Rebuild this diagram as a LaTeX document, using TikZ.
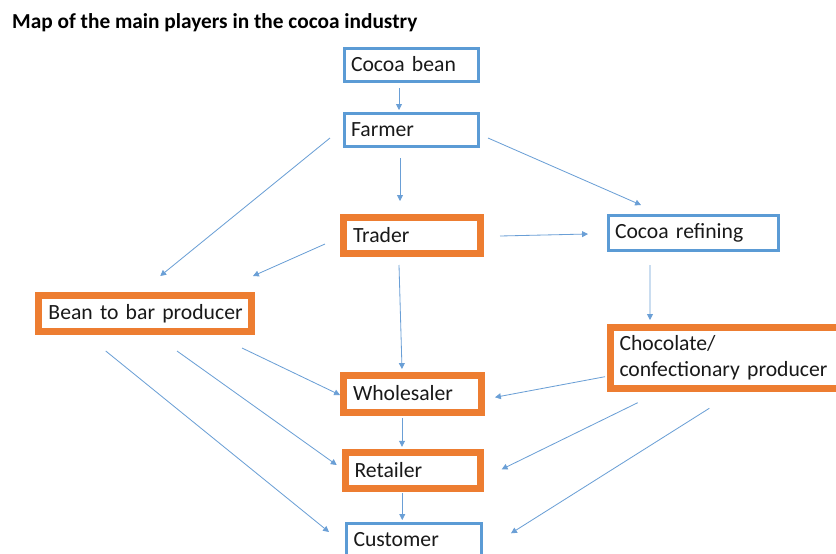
\documentclass[tikz,border=0pt]{standalone}
\usepackage{fontspec}
\setmainfont{Carlito}
\usetikzlibrary{arrows.meta,calc}

\definecolor{boxblue}{HTML}{5B9BD5}
\definecolor{boxorange}{HTML}{ED7D31}
\definecolor{flowblue}{HTML}{6A9FD6}

\tikzset{
  box/.style={outer sep=0pt, align=left, text=black!90,
    font=\fontsize{18.5}{22}\selectfont, fill=white},
  bluebox/.style={box, draw=boxblue, line width=0.09cm, inner xsep=0.21cm, text width=#1},
  orangebox/.style={box, draw=boxorange, line width=0.21cm, inner xsep=0.285cm, text width=#1},
  flow/.style={draw=flowblue, line width=0.7pt, -{Triangle[length=5pt,width=5pt]}}
}

\begin{document}
\begin{tikzpicture}[x=0.03cm,y=-0.03cm]
                        \useasboundingbox (0,0) rectangle (836,553);
                        \clip (0,0) rectangle (836,553);
                        \fill[white] (0,0) rectangle (836,553);

                        \node[anchor=base west, inner sep=0pt, font=\bfseries\fontsize{18.2}{22}\selectfont] (title) at (12,28) {Map of the main players in the cocoa industry};

                        % the players
                        \node[bluebox=3.6cm, minimum height=0.99cm] (cocoa) at (411,64.5) {Cocoa bean};
                        \node[bluebox=3.6cm, minimum height=0.99cm] (farmer) at (411,129.5) {Farmer};
                        \node[orangebox=3.54cm, minimum height=1.08cm] (trader) at (412,235) {Trader};
                        \node[bluebox=4.68cm, minimum height=1.035cm] (refining) at (693,232.75) {Cocoa refining};
                        \node[orangebox=5.805cm, minimum height=1.095cm] (bean) at (145.25,313.25) {\mbox{Bean to bar producer}};
                        \node[orangebox=6.39cm, minimum height=1.83cm] (choc) at (726,357.5) {Chocolate/\\\mbox{confectionary producer}};
                        \node[orangebox=3.57cm, minimum height=1.11cm] (whole) at (412.5,393.5) {Wholesaler};
                        \node[orangebox=3.495cm, minimum height=1.056cm] (retail) at (412.75,470.4) {Retailer};
                        \node[bluebox=3.615cm, minimum height=0.99cm] (cust) at (413.75,539.5) {Customer};

                        % the flows
                        \draw[flow] ($(cocoa.south)+(-12,7)$) -- ($(farmer.north)+(-12,-3)$);
                        \draw[flow] ($(farmer.south)+(-11,12)$) -- ($(trader.north)+(-12,-16)$);
                        \draw[flow] ($(farmer.west)+(-14,8.5)$) -- ($(bean.north)+(15,-19)$);
                        \draw[flow] ($(farmer.east)+(10,8.5)$) -- ($(refining.north)+(-52,-10.5)$);
                        \draw[flow] ($(trader.east)+(19.5,1)$) -- ($(refining.west)+(-20,1.25)$);
                        \draw[flow] ($(trader.west)+(-18.5,9)$) -- ($(bean.north east)+(1.5,-19)$);
                        \draw[flow] ($(trader.south)+(-13,12)$) -- ($(whole.north)+(-10.5,-6)$);
                        \draw[flow] ($(refining.south)+(-43,15)$) -- ($(choc.north west)+(40,-7)$);
                        \draw[flow] ($(bean.south east)+(-9.5,16.5)$) -- ($(whole.west)+(-3.5,1.5)$);
                        \draw[flow] ($(bean.south)+(31.75,19.5)$) -- ($(retail.west)+(-8.3,-5.4)$);
                        \draw[flow] ($(bean.south)+(-39.5,19.5)$) -- ($(cust.west)+(-17.5,-7.5)$);
                        \draw[flow] ($(choc.west)+(-5,19.2)$) -- ($(whole.east)+(13.5,3.8)$);
                        \draw[flow] ($(choc.south west)+(27.7,14.7)$) -- ($(retail.east)+(21.2,-1.1)$);
                        \draw[flow] ($(choc.south west)+(99.3,20.3)$) -- ($(cust.east)+(30,-6.2)$);
                        \draw[flow] ($(whole.south)+(-10.5,6)$) -- ($(retail.north)+(-10.75,-6)$);
                        \draw[flow] ($(retail.south)+(-10.5,5)$) -- ($(cust.north)+(-11.5,-3)$);
                      \end{tikzpicture}
\end{document}
